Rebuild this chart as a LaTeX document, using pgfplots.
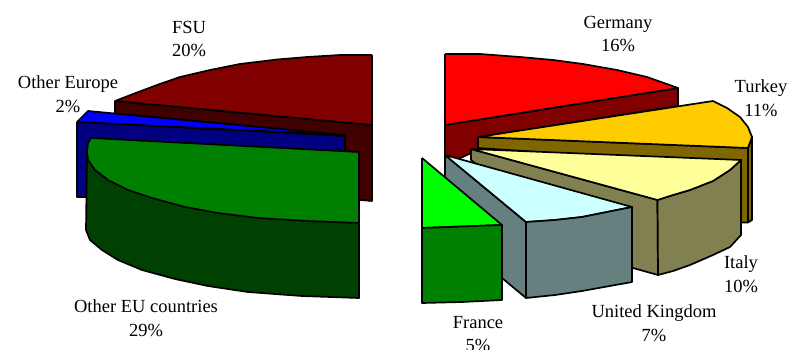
\documentclass[border=0pt]{standalone}
\usepackage{fontspec}
\setmainfont{Liberation Serif}
\usepackage{pgfplots}
\pgfplotsset{compat=1.18}
\definecolor{fsuT}{HTML}{800000}\definecolor{fsuS}{HTML}{400000}
\definecolor{oeT}{HTML}{0000FF}\definecolor{oeS}{HTML}{000080}
\definecolor{euT}{HTML}{008000}\definecolor{euS}{HTML}{004000}
\definecolor{deT}{HTML}{FF0000}\definecolor{deS}{HTML}{800000}
\definecolor{trT}{HTML}{FFCC00}\definecolor{trS}{HTML}{806600}
\definecolor{itT}{HTML}{FFFF99}\definecolor{itS}{HTML}{808050}
\definecolor{ukT}{HTML}{CCFFFF}\definecolor{ukS}{HTML}{668080}
\definecolor{frT}{HTML}{00FF00}\definecolor{frS}{HTML}{008000}
\tikzset{lab/.style={font=\fontsize{18.5bp}{18bp}\selectfont,align=center,text=black,inner sep=0pt}}
\begin{document}
\begin{tikzpicture}
\clip (0,0) rectangle (789bp,350bp);
\begin{axis}[
  at={(0,0)},anchor=south west,
  scale only axis,width=789bp,height=350bp,
  xmin=0,xmax=789,ymin=0,ymax=350,y dir=reverse,
  hide axis,clip=false,
  every axis plot/.append style={draw=black,line width=1.7bp,line join=round,mark=none},
]
% FSU slice
\addplot[fill=fsuS] coordinates {(115,101)(372,125)(372,201)(350,199)(115,190)(115,101)};
\addplot[fill=fsuT] coordinates {(372,55)(340,55)(307,57)(277,59.5)(240,64)(210,70)(180,77)(157,85)(137,92.5)(115,101)(372,125)(372,55)};
% Other Europe slice
\addplot[fill=oeT] coordinates {(77,122)(88,111)(345,135)(77,122)};
\addplot[fill=oeS] coordinates {(77,122)(345,136)(345,160)(100,197)(77,197)(77,122)};
% Other EU countries slice
\addplot[fill=euS] coordinates {(87,155)(86,230)(90,240)(102,250)(118,260)(142,270)(175,279)(208,286)(248,292)(302,296)(359,298)(359,222)(200,190)(87,155)};
\addplot[fill=euT] coordinates {(91,138)(88,143)(87,152)(88,160)(95,170)(108,180)(128,190)(152,198)(185,207)(218,213)(258,218)(308,221)(359,223)(359,152)(91,138)};
% Germany slice
\addplot[fill=deS] coordinates {(445,125)(678,88)(678,106)(478,137)(478,150)(445,165)(445,125)};
\addplot[fill=deT] coordinates {(445,54)(480,54)(520,57)(553,60)(583,64)(617,70)(647,77)(678,88)(445,125)(445,54)};
% Turkey slice
\addplot[fill=trS] coordinates {(748,148)(752,137)(752,220)(748,222.5)(748,148)};
\addplot[fill=trS] coordinates {(478,137)(748,148)(748,222.5)(735,222.5)(735,165)(478,148)(478,137)};
\addplot[fill=trT] coordinates {(478,137)(713,101)(727,108)(740,117)(748,127)(752,137)(748,148)(478,137)};
% Italy slice
\addplot[fill=itS] coordinates {(471,149)(657.5,200)(658,275)(633,268)(560,230)(471,160)(471,149)};
\addplot[fill=itS] coordinates {(657.5,200)(673,195)(690,190)(713,181)(730,170)(741,160)(741,235)(730,247)(713,255)(690,265)(673,271)(658,275)(657.5,200)};
\addplot[fill=itT] coordinates {(471,149)(741,160)(730,170)(713,181)(690,190)(673,195)(657.5,200)(471,149)};
% United Kingdom slice
\addplot[fill=ukS] coordinates {(445,155)(526,222)(526,298)(502,278)(445,200)(445,155)};
\addplot[fill=ukT] coordinates {(445,155)(632,207)(582,217)(555,220)(526,222)(445,155)};
\addplot[fill=ukS] coordinates {(526,222)(555,220)(582,217)(632,207)(632,282)(582,291)(555,295)(526,298)(526,222)};
% France slice
\addplot[fill=frT] coordinates {(422,158)(502,225)(462,226.5)(422,228)(422,158)};
\addplot[fill=frS] coordinates {(422,228)(462,226.5)(502,225)(502,300)(462,302)(422,303)(422,228)};
% Slice labels
\node[lab] at (axis cs:189,39) {FSU\\[5.5bp]20\%};
\node[lab] at (axis cs:68,94) {Other Europe\\[5.5bp]2\%};
\node[lab] at (axis cs:146,318) {Other EU countries\\[5.5bp]29\%};
\node[lab] at (axis cs:618,34) {Germany\\[5.5bp]16\%};
\node[lab] at (axis cs:761,98) {Turkey\\[5.5bp]11\%};
\node[lab] at (axis cs:741,274) {Italy\\[5.5bp]10\%};
\node[lab] at (axis cs:654,323) {United Kingdom\\[5.5bp]7\%};
\node[lab] at (axis cs:478,334) {France\\[5.5bp]5\%};
\end{axis}
\end{tikzpicture}
\end{document}
